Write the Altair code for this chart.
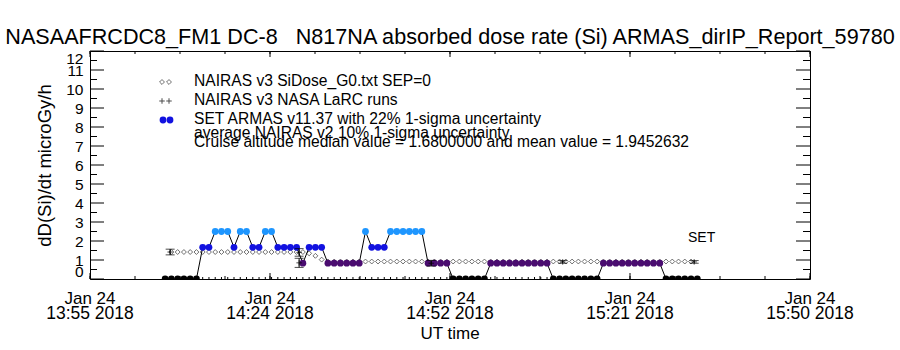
import altair as alt
import pandas as pd

FONT = "Liberation Sans"
W, H = 720, 228

# ---------------- texts ----------------
title_text = "NASAAFRCDC8_FM1 DC-8\u00a0\u00a0\u00a0N817NA absorbed dose rate (Si) ARMAS_dirIP_Report_59780"
y_title = "dD(Si)/dt microGy/h"
x_title = "UT time"
legend_lines = [
    "NAIRAS v3 SiDose_G0.txt SEP=0",
    "NAIRAS v3 NASA LaRC runs",
    "SET ARMAS v11.37 with 22% 1-sigma uncertainty",
    "average NAIRAS v2 10% 1-sigma uncertainty",
    "Cruise altitude median value = 1.6800000 and mean value = 1.9452632",
]
set_label = "SET"

# ---------------- axis ticks (minutes after Jan 24 2018 13:55 UT) ----------------
x_tick_min = [0, 28.75, 57.5, 86.25, 115]
x_tick_date = ["Jan 24", "Jan 24", "Jan 24", "Jan 24", "Jan 24"]
x_tick_time = ["13:55 2018", "14:24 2018", "14:52 2018", "15:21 2018", "15:50 2018"]
y_ticks = [0, 1, 2, 3, 4, 5, 6, 7, 8, 9, 10, 11, 12]

# ---------------- data (minutes after 13:55 UT) ----------------
armas_min = [12, 13, 14, 15, 16, 17, 18, 19, 20, 21, 22, 23, 24, 25, 26, 27, 28, 29,
             30, 31, 32, 33, 34, 35, 36, 37, 38, 39, 40, 41, 42, 43, 44, 45, 46, 47,
             48, 49, 50, 51, 52, 53, 54, 55, 56, 57, 58, 59, 60, 61, 62, 63, 64, 65,
             66, 67, 68, 69, 70, 71, 72, 73, 74, 75, 76, 77, 78, 79, 80, 81, 82, 83,
             84, 85, 86, 87, 88, 89, 90, 91, 92, 93, 94, 95, 96, 97]
armas_val = [0, 0, 0, 0, 0, 0, 1.67, 1.67, 2.5, 2.5, 2.5, 1.67, 2.5, 2.5, 1.67, 1.67, 2.5, 2.5,
             1.67, 1.67, 1.67, 1.67, 0.83, 1.67, 1.67, 1.67, 0.83, 0.83, 0.83, 0.83, 0.83, 0.83,
             2.5, 1.67, 1.67, 1.67, 2.5, 2.5, 2.5, 2.5, 2.5, 2.5, 0.83, 0.83, 0.83, 0.83,
             0, 0, 0, 0, 0, 0, 0.83, 0.83, 0.83, 0.83, 0.83, 0.83, 0.83, 0.83, 0.83, 0.83,
             0, 0, 0, 0, 0, 0, 0, 0, 0.83, 0.83, 0.83, 0.83, 0.83, 0.83, 0.83, 0.83, 0.83, 0.83,
             0, 0, 0, 0, 0, 0]

sidose_min = [13, 14, 15, 16, 17, 18, 19, 20, 21, 22, 23, 24, 25, 26, 27, 28, 29, 30, 31,
              32, 33, 34, 35, 36, 37, 38, 39, 40, 41, 42, 43, 44, 45, 46, 47, 48, 49, 50,
              51, 52, 53, 54, 55, 56, 57, 58, 59, 60, 61, 62, 63, 64, 65, 66, 67, 68, 69,
              70, 71, 72, 73, 74, 75, 76, 77, 78, 79, 80, 81, 82, 83, 84, 85, 86, 87, 88,
              89, 90, 91, 92, 93, 94, 95, 96]
sidose_val = [1.42, 1.42, 1.42, 1.42, 1.42, 1.42, 1.42, 1.42, 1.42, 1.42, 1.42, 1.42, 1.42,
              1.42, 1.42, 1.42, 1.42, 1.42, 1.42, 1.42, 1.42, 1.42, 1.35, 1.22, 1.02,
              0.92, 0.92, 0.92, 0.92, 0.92, 0.92, 0.92, 0.92, 0.92, 0.92, 0.92, 0.92, 0.92,
              0.92, 0.92, 0.92, 0.92, 0.92, 0.92, 0.92, 0.92, 0.92, 0.92, 0.92, 0.92, 0.92,
              0.92, 0.92, 0.92, 0.92, 0.92, 0.92, 0.92, 0.92, 0.92, 0.92, 0.92, 0.92, 0.92,
              0.92, 0.92, 0.92, 0.92, 0.92, 0.92, 0.92, 0.92, 0.92, 0.92, 0.92, 0.92, 0.92,
              0.92, 0.92, 0.92, 0.92, 0.92, 0.92, 0.92]

larc_min = [12.8, 33.4, 33.4, 54.5, 75.5, 96.5]
larc_val = [1.42, 1.40, 0.85, 0.83, 0.90, 0.90]
larc_err = [0.15, 0.20, 0.24, 0.15, 0.07, 0.07]

# ---------------- tables ----------------
df_armas = pd.DataFrame({"m": armas_min, "v": armas_val})
df_sid = pd.DataFrame({"m": sidose_min, "v": sidose_val})
df_larc = pd.DataFrame({"m": larc_min, "v": larc_val, "e": larc_err})
df_larc["lo"] = df_larc["v"] - df_larc["e"]
df_larc["hi"] = df_larc["v"] + df_larc["e"]
df_xt = pd.DataFrame({"m": x_tick_min, "d": x_tick_date, "t": x_tick_time})
df_yt_major = pd.DataFrame({"v": y_ticks})
df_yt_minor = pd.DataFrame({"v": [y + 0.5 for y in y_ticks[:-1]]})
df_xt_minor = pd.DataFrame({"m": [k * 115 / 16 for k in range(17)]})
df_small = df_armas[(df_armas["m"] >= 17) & (df_armas["m"] <= 73)][["m"]]

xs = alt.Scale(domain=[0, 115], nice=False, zero=False)
ys = alt.Scale(domain=[0, 12], nice=False, zero=False)

y_axis = alt.Axis(values=y_ticks, labelFlush=True, labelOverlap=False, labelBound=False,
                  ticks=False, domain=False, grid=False,
                  labelPadding=7, labelFontSize=15.5, labelFont=FONT, labelColor="black",
                  title=y_title, titleFont=FONT, titleFontSize=18.5, titleFontWeight="normal",
                  titleColor="black", titleX=-40, titleY=114, titleAngle=270,
                  titleBaseline="alphabetic", titleAlign="center")


def X(f="m"):
    return alt.X(f"{f}:Q", scale=xs, axis=None)


def Yn(f="v"):
    return alt.Y(f"{f}:Q", scale=ys, axis=y_axis)


diam = alt.Chart(df_sid).mark_point(shape="diamond", filled=False, color="black",
                                     size=24, strokeWidth=0.8).encode(x=X(), y=Yn())

armas_line = alt.Chart(df_armas).mark_line(color="black", strokeWidth=1, clip=True).encode(
    x=X(), y=Yn(), order="m:Q")

armas_pts = alt.Chart(df_armas).mark_circle(size=46, opacity=1, clip=True).encode(
    x=X(), y=Yn(),
    color=alt.Color("v:Q", legend=None,
                    scale=alt.Scale(type="threshold", domain=[0.4, 1.2, 2.0],
                                    range=["#000000", "#4A0C70", "#1212E0", "#1E96FF"])))

larc_bar = alt.Chart(df_larc).mark_rule(color="black", strokeWidth=1).encode(
    x=X(), y=Yn("lo"), y2="hi:Q")
larc_cap_lo = alt.Chart(df_larc).mark_tick(orient="horizontal", size=9, thickness=1,
                                           color="black").encode(x=X(), y=Yn("lo"))
larc_cap_hi = alt.Chart(df_larc).mark_tick(orient="horizontal", size=9, thickness=1,
                                           color="black").encode(x=X(), y=Yn("hi"))
PLUS = "M -1 0 L 1 0 M 0 -1 L 0 1"
larc_plus = alt.Chart(df_larc).mark_point(shape=PLUS, filled=False, color="black",
                                          size=30, strokeWidth=1).encode(x=X(), y=Yn())

# inward ticks
ytick_l_maj = alt.Chart(df_yt_major).mark_rule(color="black").encode(
    y=Yn(), x=alt.value(0), x2=alt.value(14))
ytick_l_min = alt.Chart(df_yt_minor).mark_rule(color="black").encode(
    y=Yn(), x=alt.value(0), x2=alt.value(7))
ytick_r_maj = alt.Chart(df_yt_major).mark_rule(color="black").encode(
    y=Yn(), x=alt.value(W), x2=alt.value(W - 14))
ytick_r_min = alt.Chart(df_yt_minor).mark_rule(color="black").encode(
    y=Yn(), x=alt.value(W), x2=alt.value(W - 7))
xtick_b_maj = alt.Chart(df_xt).mark_rule(color="black").encode(
    x=X(), y=alt.value(H), y2=alt.value(H - 6))
xtick_t_maj = alt.Chart(df_xt).mark_rule(color="black").encode(
    x=X(), y=alt.value(0), y2=alt.value(6))
xtick_b_min = alt.Chart(df_xt_minor).mark_rule(color="black").encode(
    x=X(), y=alt.value(H), y2=alt.value(H - 3))
xtick_t_min = alt.Chart(df_xt_minor).mark_rule(color="black").encode(
    x=X(), y=alt.value(0), y2=alt.value(3))
small_ticks = alt.Chart(df_small).mark_rule(color="black").encode(
    x=X(), y=alt.value(H), y2=alt.value(H - 2))

# x tick labels
xlab1 = alt.Chart(df_xt).mark_text(font=FONT, fontSize=17, color="black", baseline="alphabetic").encode(
    x=X(), y=alt.value(253), text="d:N")
xlab2 = alt.Chart(df_xt).mark_text(font=FONT, fontSize=17.5, color="black", baseline="alphabetic").encode(
    x=X(), y=alt.value(268), text="t:N")


def txt(s, x, y, size, align="left"):
    return alt.Chart(pd.DataFrame({"s": [s]})).mark_text(
        font=FONT, fontSize=size, color="black", align=align, baseline="alphabetic").encode(
        x=alt.value(x), y=alt.value(y), text="s:N")


texts = [txt(title_text, W / 2, -7, 21.6, "center"),
         txt(x_title, W / 2, 288, 17, "center"),
         txt(set_label, 598, 191, 14)]
leg_y = [35, 54, 73, 87, 96]
for s, yy in zip(legend_lines, leg_y):
    texts.append(txt(s, 104, yy, 15.6))

# legend symbols (decoration, positioned in pixels)
one = pd.DataFrame({"k": [0]})
legend_syms = []
for xx in (72, 79):
    legend_syms.append(alt.Chart(one).mark_point(shape="diamond", filled=False, color="black",
                                                 size=24, strokeWidth=0.8).encode(
        x=alt.value(xx), y=alt.value(31)))
    legend_syms.append(alt.Chart(one).mark_point(shape=PLUS, filled=False, color="black",
                                                 size=30, strokeWidth=1).encode(
        x=alt.value(xx), y=alt.value(50)))
    legend_syms.append(alt.Chart(one).mark_circle(size=46, opacity=1, color="#1212E0").encode(
        x=alt.value(xx + 1), y=alt.value(69)))

chart = alt.layer(
    diam, armas_line, armas_pts, larc_bar, larc_cap_lo, larc_cap_hi, larc_plus,
    ytick_l_maj, ytick_l_min, ytick_r_maj, ytick_r_min,
    xtick_b_maj, xtick_t_maj, xtick_b_min, xtick_t_min, small_ticks,
    xlab1, xlab2, *texts, *legend_syms,
).properties(
    width=W, height=H,
    autosize=alt.AutoSizeParams(type="none"),
    padding={"left": 90, "top": 51, "right": 90, "bottom": 71},
    background="white",
).configure_view(stroke="black", strokeWidth=1)

chart.save("out.html", embed_options={"renderer": "svg", "actions": False})
